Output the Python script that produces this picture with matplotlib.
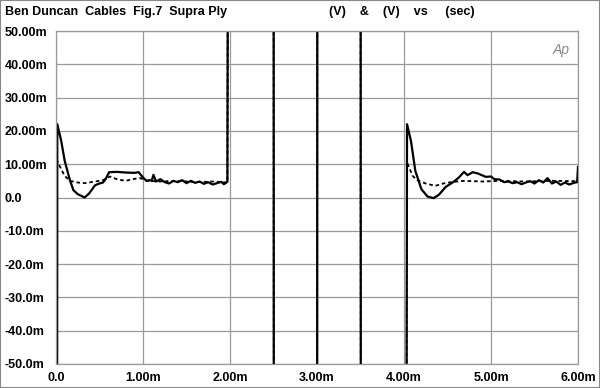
import numpy as np
import matplotlib
matplotlib.use("Agg")
import matplotlib.pyplot as plt
from matplotlib.patches import Rectangle

plt.rcParams['font.family'] = ['Liberation Sans', 'DejaVu Sans']

# time in ms, level in mV (values of +-200 are off-scale)
t_solid = [0.000, 0.010, 0.015, 0.06, 0.10, 0.16, 0.20, 0.25, 0.33, 0.38, 0.45, 0.50,
           0.54, 0.57, 0.61, 0.70, 0.80, 0.90, 0.95, 1.00, 1.04, 1.08, 1.10, 1.12,
           1.15, 1.20, 1.25, 1.30, 1.35, 1.40, 1.45, 1.50, 1.55, 1.60, 1.65, 1.70,
           1.75, 1.80, 1.85, 1.90, 1.93, 1.97, 1.985, 2.50, 2.505, 3.00, 3.005, 3.50,
           3.505, 4.02, 4.035, 4.08, 4.13, 4.20, 4.27, 4.34, 4.40, 4.48, 4.57, 4.63,
           4.69, 4.73, 4.79, 4.85, 4.94, 5.00, 5.04, 5.10, 5.15, 5.20, 5.25, 5.30,
           5.35, 5.40, 5.45, 5.50, 5.55, 5.60, 5.65, 5.70, 5.75, 5.80, 5.85, 5.90,
           5.95, 5.99, 6.00]
v_solid = [-200, -200, 22.0, 17.0, 11.0, 5.2, 2.2, 1.0, 0.0, 1.2, 3.7, 4.2,
           4.5, 5.5, 7.6, 7.7, 7.5, 7.4, 7.6, 6.0, 5.0, 5.2, 5.0, 6.8,
           4.8, 5.5, 4.6, 4.2, 5.0, 4.6, 5.2, 4.3, 5.0, 4.4, 4.8, 4.1,
           4.6, 3.9, 4.3, 4.7, 4.0, 4.7, 200, 200, -200, -200, 200, 200,
           -200, -200, 22.0, 17.0, 8.0, 2.5, 0.3, -0.2, 0.8, 3.2, 4.7, 6.0,
           7.7, 6.7, 7.6, 7.2, 6.2, 6.3, 5.5, 5.4, 4.6, 4.8, 4.3, 4.6,
           4.0, 4.5, 4.9, 4.2, 5.2, 4.5, 5.8, 4.2, 4.8, 3.8, 4.5, 3.9,
           4.4, 4.6, 9.2]

t_dash = [0.005, 0.05, 0.10, 0.16, 0.25, 0.33, 0.45, 0.54, 0.62, 0.70, 0.80, 0.90,
          0.97, 1.05, 1.20, 1.40, 1.60, 1.80, 1.97, 1.985, 2.50, 2.505, 3.00, 3.005,
          3.50, 3.505, 4.02, 4.035, 4.10, 4.15, 4.25, 4.36, 4.45, 4.56, 4.70, 4.90,
          5.10, 5.40, 5.70, 6.00]
v_dash = [11.5, 9.0, 6.5, 5.0, 4.5, 4.3, 4.8, 5.2, 6.3, 5.5, 5.0, 5.6,
          5.8, 5.0, 4.8, 5.0, 4.6, 4.8, 4.5, 200, 200, -200, -200, 200,
          200, -200, -200, 10.5, 6.5, 5.2, 4.2, 3.5, 4.2, 4.7, 5.0, 4.8,
          5.0, 4.8, 5.0, 4.9]

x_ticks = [0, 1, 2, 3, 4, 5, 6]
x_labels = ['0.0', '1.00m', '2.00m', '3.00m', '4.00m', '5.00m', '6.00m']
y_ticks = [50, 40, 30, 20, 10, 0, -10, -20, -30, -40, -50]
y_labels = ['50.00m', '40.00m', '30.00m', '20.00m', '10.00m', '0.0',
            '-10.0m', '-20.0m', '-30.0m', '-40.0m', '-50.0m']

fig = plt.figure(figsize=(6, 3.88), dpi=100)
ax = fig.add_axes([56/600, 24/388, 522/600, 333/388])

ax.plot(t_solid, v_solid, color='black', lw=1.6, solid_joinstyle='round')
ax.plot(t_dash, v_dash, color='black', lw=1.3, linestyle=(0, (2, 1.6)))

ax.set_xlim(0, 6)
ax.set_ylim(-50, 50)
ax.set_xticks(x_ticks)
ax.set_xticklabels(x_labels)
ax.set_yticks(y_ticks)
ax.set_yticklabels(y_labels)
ax.grid(True, color='#9a9a9a', lw=0.9)
ax.set_axisbelow(True)
for s in ax.spines.values():
    s.set_color('#9a9a9a')
    s.set_linewidth(0.9)
ax.tick_params(length=0, labelsize=9)
ax.tick_params(axis='y', pad=37)
ax.tick_params(axis='x', pad=6)
for lab in ax.get_yticklabels():
    lab.set_horizontalalignment('left')
    lab.set_fontweight('bold')
for lab in ax.get_xticklabels():
    lab.set_fontweight('bold')

fig.text(5/600, 1 - 15/388, 'Ben Duncan  Cables  Fig.7  Supra Ply', fontsize=9,
         fontweight='bold', va='baseline')
fig.text(329/600, 1 - 15/388, '(V)    &    (V)    vs     (sec)', fontsize=9,
         fontweight='bold', va='baseline')
ax.text(0.985, 0.965, 'Ap', transform=ax.transAxes, ha='right', va='top',
        fontsize=10, fontstyle='italic', color='#888888')

fig.patches.append(Rectangle((0, 0), 1, 1, transform=fig.transFigure, fill=False,
                             edgecolor='#888888', lw=1.5))

fig.savefig('out.png', dpi=100)
